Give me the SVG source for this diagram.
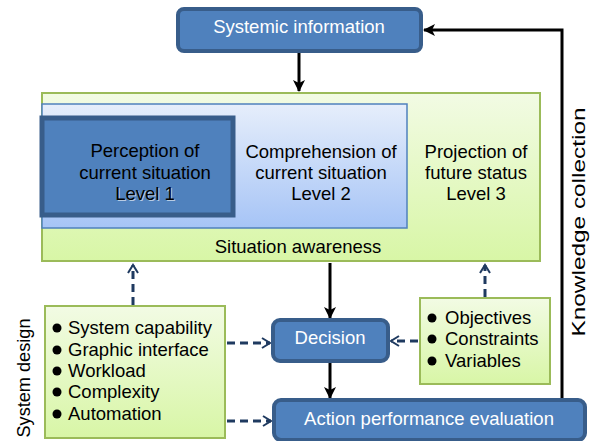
<svg xmlns="http://www.w3.org/2000/svg" width="594" height="441" viewBox="0 0 594 441">
<defs>
<linearGradient id="gGreen" x1="0" y1="0" x2="0" y2="1">
<stop offset="0" stop-color="#f2fbe4"/>
<stop offset="1" stop-color="#d8f6a6"/>
</linearGradient>
<linearGradient id="gBlue" x1="0" y1="0" x2="0" y2="1">
<stop offset="0" stop-color="#e6eefb"/>
<stop offset="1" stop-color="#a6c4f6"/>
</linearGradient>
<marker id="aBlack" viewBox="0 0 12 12" refX="11" refY="6" markerWidth="12" markerHeight="12" markerUnits="userSpaceOnUse" orient="auto">
<path d="M0,0 L12,6 L0,12 L3,6 z" fill="#000"/>
</marker>
<marker id="aNavy" viewBox="0 0 12 12" refX="10" refY="6" markerWidth="12" markerHeight="12" markerUnits="userSpaceOnUse" orient="auto">
<path d="M2,1 L10,6 L2,11" fill="none" stroke="#1f3a60" stroke-width="2"/>
</marker>
</defs>
<style>
text{font-family:"Liberation Sans",Arial,sans-serif;font-size:18.5px;}
.wt{fill:#fff;text-anchor:middle;}
.bk{fill:#000;}
.mid{text-anchor:middle;}
.bluebox{fill:#4f81bd;stroke:#385d8a;stroke-width:4;}
.greenbox{fill:url(#gGreen);stroke:#9bbb59;stroke-width:2;}
.solid{fill:none;stroke:#000;stroke-width:3;}
.dash{fill:none;stroke:#1f3a60;stroke-width:3;stroke-dasharray:8,5;}
</style>

<g id="connectors">
<path class="solid" d="M299,53 L299,91" marker-end="url(#aBlack)"/>
<path class="solid" d="M330,263 L330,318" marker-end="url(#aBlack)"/>
<path class="solid" d="M330,363 L330,398" marker-end="url(#aBlack)"/>
<path class="solid" d="M562,399 L562,30 L424,30" marker-end="url(#aBlack)"/>
<path class="dash" d="M133,305 L133,265" marker-end="url(#aNavy)"/>
<path class="dash" d="M485,297 L485,265" marker-end="url(#aNavy)"/>
<path class="dash" d="M227,343 L270,343" marker-end="url(#aNavy)"/>
<path class="dash" d="M227,421 L271,421" marker-end="url(#aNavy)"/>
<path class="dash" d="M418,341 L391,341" marker-end="url(#aNavy)"/>
</g>

<g id="systemic-information">
<rect class="bluebox" x="178" y="9" width="243" height="42" rx="6"/>
<text class="wt" x="299" y="33">Systemic information</text>
</g>

<g id="situation-awareness">
<rect class="greenbox" x="42" y="93" width="498" height="168"/>
<text class="bk mid" x="298" y="253">Situation awareness</text>
</g>

<g id="level2">
<rect x="42" y="104" width="365" height="124" fill="url(#gBlue)" stroke="#4f81bd" stroke-width="1.5"/>
<text class="bk mid" x="321" y="158">Comprehension of</text>
<text class="bk mid" x="321" y="179">current situation</text>
<text class="bk mid" x="321" y="200">Level 2</text>
</g>

<g id="level1">
<rect x="42" y="118" width="191" height="97" fill="#4f81bd" stroke="#385d8a" stroke-width="5"/>
<text class="bk mid" x="145" y="157">Perception of</text>
<text class="bk mid" x="145" y="179">current situation</text>
<text class="mid" x="146" y="201" fill="#fff" opacity="0.6">Level 1</text>
<text class="bk mid" x="145" y="200">Level 1</text>
</g>

<g id="level3">
<text class="bk mid" x="476" y="158">Projection of</text>
<text class="bk mid" x="476" y="179">future status</text>
<text class="bk mid" x="476" y="200">Level 3</text>
</g>

<g id="system-design">
<rect class="greenbox" x="45" y="306" width="180" height="132"/>
<circle cx="57" cy="328" r="4.5" fill="#000"/>
<circle cx="57" cy="350" r="4.5" fill="#000"/>
<circle cx="57" cy="371" r="4.5" fill="#000"/>
<circle cx="57" cy="392" r="4.5" fill="#000"/>
<circle cx="57" cy="414" r="4.5" fill="#000"/>
<text class="bk" x="68" y="334">System capability</text>
<text class="bk" x="68" y="356">Graphic interface</text>
<text class="bk" x="68" y="377">Workload</text>
<text class="bk" x="68" y="398">Complexity</text>
<text class="bk" x="68" y="420">Automation</text>
<text class="bk mid" transform="translate(30,378) rotate(-90)" textLength="119" lengthAdjust="spacingAndGlyphs">System design</text>
</g>

<g id="decision">
<rect class="bluebox" x="273" y="320" width="115" height="41" rx="7"/>
<text class="wt" x="330" y="344">Decision</text>
</g>

<g id="objectives">
<rect class="greenbox" x="420" y="298" width="130" height="86"/>
<circle cx="432" cy="318" r="4.5" fill="#000"/>
<circle cx="432" cy="339" r="4.5" fill="#000"/>
<circle cx="432" cy="361" r="4.5" fill="#000"/>
<text class="bk" x="445" y="324">Objectives</text>
<text class="bk" x="445" y="345">Constraints</text>
<text class="bk" x="445" y="367">Variables</text>
</g>

<g id="action">
<rect class="bluebox" x="274" y="400" width="311" height="40" rx="7"/>
<text class="wt" x="429" y="425">Action performance evaluation</text>
</g>

<g id="knowledge-label">
<text class="bk mid" transform="translate(585,222) rotate(-90)" textLength="229" lengthAdjust="spacingAndGlyphs">Knowledge collection</text>
</g>
</svg>
